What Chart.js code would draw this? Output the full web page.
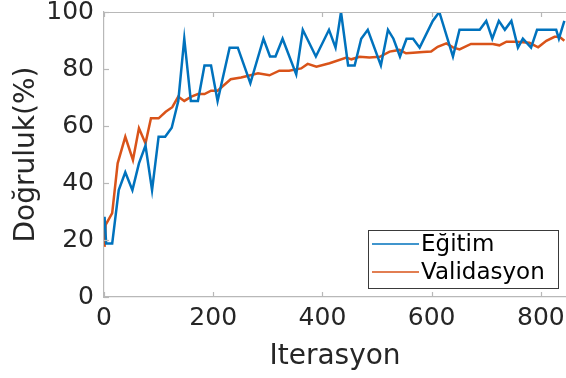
<!DOCTYPE html>
<html>
<head>
<meta charset="utf-8">
<script src="https://cdn.jsdelivr.net/npm/chart.js@4.4.1/dist/chart.umd.min.js"></script>
<style>
  html, body { margin: 0; padding: 0; background: #fff; }
  #wrap { width: 566px; height: 378px; position: relative; }
</style>
</head>
<body>
<div id="wrap"><canvas id="c"></canvas></div>
<script>
// ---- Data ----
const seriesNames = ["Eğitim", "Validasyon"];

const egitimIter = [1, 4, 15, 27, 39, 52, 64, 76, 88, 100, 112, 124, 136, 147, 159, 172, 184, 196, 208, 230, 245, 268, 292, 304, 314, 327, 352, 364, 388, 412, 424, 434, 447, 459, 471, 483, 507, 520, 530, 542, 554, 566, 578, 602, 614, 639, 651, 688, 700, 711, 723, 734, 746, 758, 767, 782, 793, 828, 833, 843];
const egitimAcc  = [28.13, 18.75, 18.75, 37.5, 43.75, 37.5, 46.88, 53.13, 37.5, 56.25, 56.25, 59.38, 68.75, 90.63, 68.75, 68.75, 81.25, 81.25, 68.75, 87.5, 87.5, 75, 90.63, 84.38, 84.38, 90.63, 78.13, 93.75, 84.38, 93.75, 87.5, 100, 81.25, 81.25, 90.63, 93.75, 81.25, 93.75, 90.63, 84.38, 90.63, 90.63, 87.5, 96.88, 100, 84.38, 93.75, 93.75, 96.88, 90.63, 96.88, 93.75, 96.88, 87.5, 90.63, 87.5, 93.75, 93.75, 90.63, 96.88];

const valIter = [1, 3, 15, 25, 39, 53, 64, 76, 86, 100, 113, 125, 136, 147, 160, 172, 184, 196, 208, 232, 251, 270, 282, 303, 321, 339, 361, 373, 389, 413, 444, 453, 468, 486, 505, 523, 541, 553, 566, 584, 599, 611, 627, 639, 651, 672, 712, 724, 737, 755, 779, 795, 810, 825, 834, 843];
const valAcc  = [17.6, 25.3, 29.4, 46.9, 56.2, 48.1, 59.2, 53.9, 62.7, 62.7, 65, 66.6, 70.3, 68.8, 70.3, 71.2, 71.2, 72.4, 72.4, 76.4, 77, 77.9, 78.5, 77.8, 79.4, 79.4, 80.2, 81.8, 80.8, 82, 84, 83.4, 84.3, 84, 84.3, 86.1, 86.7, 85.5, 85.7, 86, 86.1, 87.8, 89, 87.6, 86.9, 88.8, 88.8, 88.3, 89.6, 89.6, 89.2, 87.6, 89.9, 91.3, 91.3, 89.9];

const xTicks = [0, 200, 400, 600, 800];
const yTicks = [0, 20, 40, 60, 80, 100];
const xTitle = "Iterasyon";
const yTitle = "Doğruluk(%)";

// ---- Styles ----
const FONT = "'DejaVu Sans', 'Liberation Sans', Arial, sans-serif";
const AXIS_COLOR = "#b8b8b8";
const TEXT_COLOR = "#262626";
const BLUE = "#0072BD";
const ORANGE = "#D95319";

function toPoints(xs, ys) { return xs.map((x, i) => ({ x: x, y: ys[i] })); }

const frameAndLegend = {
  id: "frameAndLegend",
  afterDraw(chart) {
    const ctx = chart.ctx;
    const a = chart.chartArea;
    const xs = chart.scales.x, ys = chart.scales.y;
    ctx.save();
    ctx.strokeStyle = AXIS_COLOR;
    ctx.lineWidth = 1.2;
    ctx.beginPath();
    ctx.moveTo(a.left, a.top + 0.5);
    ctx.lineTo(a.right, a.top + 0.5);
    ctx.stroke();
    const tl = 5;
    xTicks.forEach(v => {
      const px = Math.round(xs.getPixelForValue(v)) + 0.5;
      ctx.beginPath();
      ctx.moveTo(px, a.bottom); ctx.lineTo(px, a.bottom - tl);
      ctx.moveTo(px, a.top); ctx.lineTo(px, a.top + tl);
      ctx.stroke();
    });
    yTicks.forEach(v => {
      const py = Math.round(ys.getPixelForValue(v)) + 0.5;
      ctx.beginPath();
      ctx.moveTo(a.left, py); ctx.lineTo(a.left + tl, py);
      ctx.stroke();
    });
    const bx = 368.5, by = 230.5, bw = 190, bh = 58;
    ctx.fillStyle = "#ffffff";
    ctx.fillRect(bx, by, bw, bh);
    ctx.strokeStyle = "#3a3a3a";
    ctx.lineWidth = 1;
    ctx.strokeRect(bx, by, bw, bh);
    const rows = [244, 272];
    chart.data.datasets.forEach((ds, i) => {
      const y = rows[i];
      ctx.strokeStyle = ds.borderColor;
      ctx.lineWidth = 1.5;
      ctx.beginPath();
      ctx.moveTo(372, y); ctx.lineTo(419, y);
      ctx.stroke();
      ctx.fillStyle = "#000";
      ctx.font = "23px " + FONT;
      ctx.textAlign = "left";
      ctx.textBaseline = "middle";
      ctx.fillText(ds.label, 421, y + 1);
    });
    ctx.restore();
  }
};

new Chart(document.getElementById("c"), {
  type: "line",
  data: {
    datasets: [
      { label: seriesNames[0], data: toPoints(egitimIter, egitimAcc), borderColor: BLUE, backgroundColor: BLUE, borderWidth: 2.5, pointRadius: 0, tension: 0, fill: false },
      { label: seriesNames[1], data: toPoints(valIter, valAcc), borderColor: ORANGE, backgroundColor: ORANGE, borderWidth: 2.5, pointRadius: 0, tension: 0, fill: false }
    ]
  },
  options: {
    responsive: true,
    maintainAspectRatio: false,
    animation: false,
    layout: { padding: { top: 12, right: 0, left: 0, bottom: 0 } },
    plugins: { legend: { display: false }, tooltip: { enabled: false } },
    scales: {
      x: {
        type: "linear",
        min: 0, max: 846,
        afterBuildTicks: s => { s.ticks = xTicks.map(v => ({ value: v })); },
        afterFit: s => { s.height = 81; s.paddingLeft = 0; s.paddingRight = 0; },
        ticks: { color: TEXT_COLOR, font: { family: FONT, size: 25 }, padding: 6, maxRotation: 0, autoSkip: false },
        grid: { display: false, drawTicks: false },
        border: { display: true, color: AXIS_COLOR, width: 1.2 },
        title: { display: true, text: xTitle, color: TEXT_COLOR, font: { family: FONT, size: 28 }, padding: { top: 1, bottom: 4 } }
      },
      y: {
        min: 0, max: 100,
        afterBuildTicks: s => { s.ticks = yTicks.map(v => ({ value: v })); },
        afterFit: s => { s.width = 104; s.paddingTop = 0; s.paddingBottom = 0; },
        ticks: { color: TEXT_COLOR, font: { family: FONT, size: 25 }, padding: 10, autoSkip: false },
        grid: { display: false, drawTicks: false },
        border: { display: true, color: AXIS_COLOR, width: 1.2 },
        title: { display: true, text: yTitle, color: TEXT_COLOR, font: { family: FONT, size: 28 }, padding: { top: 10, bottom: 10 } }
      }
    }
  },
  plugins: [frameAndLegend]
});
</script>
</body>
</html>
